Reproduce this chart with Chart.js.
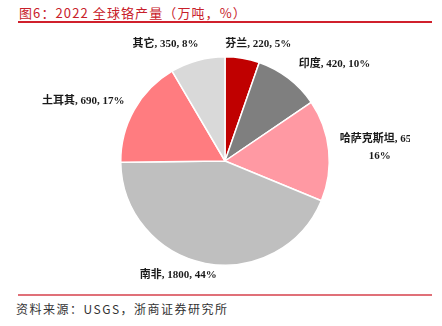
<!DOCTYPE html>
<html>
<head>
<meta charset="utf-8">
<script src="https://cdn.jsdelivr.net/npm/chart.js@4/dist/chart.umd.min.js"></script>
<style>
  body { margin: 0; background: #fff; width: 442px; height: 326px; overflow: hidden; position: relative; }
  .title { position: absolute; left: 19px; top: 3px; font: 13px 'Noto Sans CJK SC', serif; color: #C8202A; letter-spacing: 1.1px; white-space: nowrap; }
  .line1 { position: absolute; left: 18px; top: 21px; width: 414px; height: 1.5px; background: #D0202C; }
  .line2 { position: absolute; left: 18px; top: 294px; width: 414px; height: 1.5px; background: #E07078; }
  .src { position: absolute; left: 16px; top: 300px; font: 12px 'Noto Sans CJK SC', serif; color: #333; letter-spacing: 1.5px; white-space: nowrap; }
  #wrap { position: absolute; left: 0; top: 25px; width: 442px; height: 268px; }
</style>
</head>
<body>
<div class="title">图6：2022 全球铬产量（万吨，%）</div>
<div class="line1"></div>
<div id="wrap"><canvas id="pie"></canvas></div>
<div class="line2"></div>
<div class="src">资料来源：USGS，浙商证券研究所</div>
<script>
// 2022 全球铬产量（万吨）
const countries = ['芬兰', '印度', '哈萨克斯坦', '南非', '土耳其', '其它'];
const output = [220, 420, 650, 1800, 690, 350];
const shares = ['5%', '10%', '16%', '44%', '17%', '8%'];
const colors = ['#C00000', '#7F7F7F', '#FF99A3', '#BFBFBF', '#FF7C80', '#D9D9D9'];

// label placement relative to each slice's outer mid point
const labelShift = [[16, -14], [46, -14], [51, -3], [-27, 12], [-51, -9], [-32, -16]];
const labelLines = countries.map((c, i) =>
  c === '哈萨克斯坦' ? [c + ', ' + output[i] + ',', shares[i]] : [c + ', ' + output[i] + ', ' + shares[i]]);

const sliceLabels = {
  id: 'sliceLabels',
  afterDatasetsDraw(chart) {
    const ctx = chart.ctx;
    const meta = chart.getDatasetMeta(0);
    ctx.save();
    ctx.beginPath();
    ctx.rect(0, 0, 410, chart.height);
    ctx.clip();
    ctx.font = 'bold 11px "Liberation Serif", "Noto Sans CJK SC", serif';
    ctx.fillStyle = '#1a1a1a';
    ctx.textAlign = 'center';
    ctx.textBaseline = 'middle';
    meta.data.forEach((arc, i) => {
      const p = arc.getProps(['x', 'y', 'startAngle', 'endAngle', 'outerRadius'], true);
      const mid = (p.startAngle + p.endAngle) / 2;
      const x = p.x + Math.cos(mid) * p.outerRadius + labelShift[i][0];
      const y = p.y + Math.sin(mid) * p.outerRadius + labelShift[i][1];
      const lines = labelLines[i];
      const lh = 17;
      lines.forEach((t, k) => {
        ctx.fillText(t, x, y + (k - (lines.length - 1) / 2) * lh);
      });
    });
    ctx.restore();
  }
};

new Chart(document.getElementById('pie'), {
  type: 'pie',
  data: {
    labels: countries,
    datasets: [{
      data: output,
      backgroundColor: colors,
      borderColor: '#fff',
      borderWidth: 1.5,
    }]
  },
  options: {
    responsive: true,
    maintainAspectRatio: false,
    animation: false,
    layout: { padding: { left: 120, right: 112, top: 31, bottom: 27 } },
    plugins: {
      legend: { display: false },
      tooltip: { enabled: false },
    },
  },
  plugins: [sliceLabels],
});
</script>
</body>
</html>
